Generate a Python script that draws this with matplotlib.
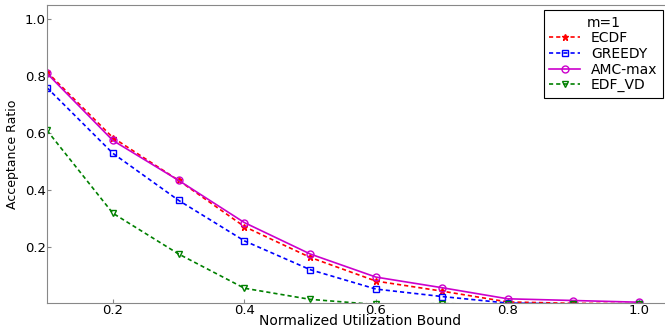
import matplotlib
matplotlib.use("Agg")
import matplotlib.pyplot as plt

x_values = [0.1, 0.2, 0.3, 0.4, 0.5, 0.6, 0.7, 0.8, 0.9, 1.0]
ecdf = [0.815, 0.585, 0.435, 0.273, 0.165, 0.082, 0.047, 0.009, 0.004, 0.003]
greedy = [0.76, 0.53, 0.365, 0.223, 0.122, 0.054, 0.028, 0.005, 0.002, 0.0]
amc_max = [0.81, 0.575, 0.435, 0.287, 0.177, 0.096, 0.059, 0.02, 0.014, 0.008]
edf_vd = [0.61, 0.32, 0.177, 0.057, 0.018, 0.0, 0.003, 0.0, 0.0, 0.0]

y_ticks = [0.2, 0.4, 0.6, 0.8, 1.0]
x_ticks = [0.2, 0.4, 0.6, 0.8, 1.0]

fig = plt.figure(figsize=(6.65, 3.28), dpi=100)
ax = fig.add_axes([0.0707, 0.076, 0.94, 0.909])

dash = (0, (2.5, 1.8))
ax.plot(x_values, ecdf, color="red", linestyle=dash, marker="*", markersize=5,
        linewidth=1.2, label="ECDF")
ax.plot(x_values, greedy, color="blue", linestyle=dash, marker="s", markersize=5,
        markerfacecolor="none", linewidth=1.2, label="GREEDY")
ax.plot(x_values, amc_max, color="#cc00cc", linestyle="-", marker="o", markersize=5,
        markerfacecolor="none", linewidth=1.2, label="AMC-max")
ax.plot(x_values, edf_vd, color="green", linestyle=dash, marker="v", markersize=5,
        markerfacecolor="none", linewidth=1.2, label="EDF_VD")

ax.set_xlim(0.1, 1.05)
ax.set_ylim(0.005, 1.05)
ax.set_xticks(x_ticks)
ax.set_yticks(y_ticks)
ax.set_xticklabels([f"{v:.1f}" for v in x_ticks])
ax.set_yticklabels([f"{v:.1f}" for v in y_ticks])
ax.tick_params(direction="in", length=3, color="#888888", labelsize=9.5, pad=1)
for spine in ax.spines.values():
    spine.set_color("#888888")

ax.set_xlabel("Normalized Utilization Bound", fontsize=10, va="bottom")
ax.xaxis.set_label_coords(0.5, -0.083)
ax.set_ylabel("Acceptance Ratio", fontsize=9, va="center")
ax.yaxis.set_label_coords(-0.055, 0.5)

leg = ax.legend(title="m=1", loc="upper right", fontsize=10, title_fontsize=10,
                fancybox=False, framealpha=1, edgecolor="black",
                handlelength=2.2, labelspacing=0.12, borderpad=0.4,
                bbox_to_anchor=(0.9856, 0.983), borderaxespad=0)
leg.get_frame().set_linewidth(0.8)

fig.savefig("out.png", dpi=100)
